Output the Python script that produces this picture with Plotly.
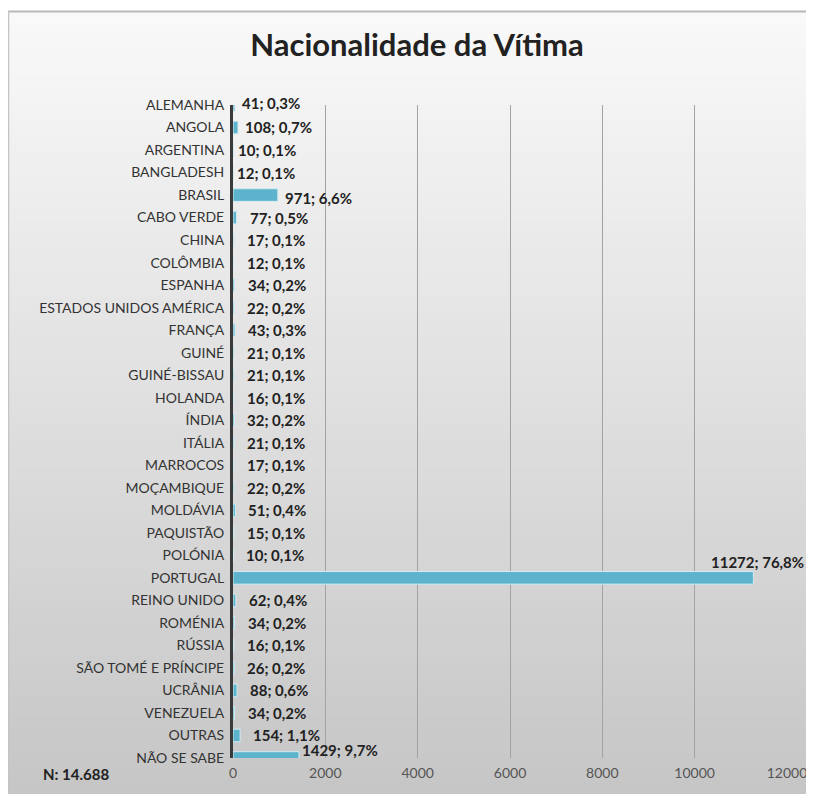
import plotly.graph_objects as go

# ---------------- Data ----------------
paises = [
    "ALEMANHA", "ANGOLA", "ARGENTINA", "BANGLADESH", "BRASIL", "CABO VERDE",
    "CHINA", "COLÔMBIA", "ESPANHA", "ESTADOS UNIDOS AMÉRICA", "FRANÇA", "GUINÉ",
    "GUINÉ-BISSAU", "HOLANDA", "ÍNDIA", "ITÁLIA", "MARROCOS", "MOÇAMBIQUE",
    "MOLDÁVIA", "PAQUISTÃO", "POLÓNIA", "PORTUGAL", "REINO UNIDO", "ROMÉNIA",
    "RÚSSIA", "SÃO TOMÉ E PRÍNCIPE", "UCRÂNIA", "VENEZUELA", "OUTRAS", "NÃO SE SABE",
]
vitimas = [
    41, 108, 10, 12, 971, 77,
    17, 12, 34, 22, 43, 21,
    21, 16, 32, 21, 17, 22,
    51, 15, 10, 11272, 62, 34,
    16, 26, 88, 34, 154, 1429,
]
percentagens = [
    "0,3%", "0,7%", "0,1%", "0,1%", "6,6%", "0,5%",
    "0,1%", "0,1%", "0,2%", "0,2%", "0,3%", "0,1%",
    "0,1%", "0,1%", "0,2%", "0,1%", "0,1%", "0,2%",
    "0,4%", "0,1%", "0,1%", "76,8%", "0,4%", "0,2%",
    "0,1%", "0,2%", "0,6%", "0,2%", "1,1%", "9,7%",
]
x_ticks = [0, 2000, 4000, 6000, 8000, 10000, 12000]
total_n = "N: 14.688"

FONT = "Lato"
BAR_COLOR = "#5cb3cb"

# label offsets in pixels (xshift, yshift); others use the default
label_offsets = {
    "ALEMANHA": (5, 2),
    "ANGOLA": (5, 1),
    "ARGENTINA": (3, 0),
    "BANGLADESH": (1, 0),
    "BRASIL": (5, -3),
    "NÃO SE SABE": (1, 8),
}
DEFAULT_OFFSET = (11, 0)

# ---------------- Figure geometry (pixels) ----------------
W, H = 814, 786
L, R, T, B = 225, 35, 97, 36
PW, PH = W - L - R, H - T - B


def px_x(p):
    return (p - L) / PW


def px_y(p):
    return (H - B - p) / PH


fig = go.Figure()

fig.add_trace(go.Bar(
    x=vitimas,
    y=paises,
    orientation="h",
    width=0.56,
    marker=dict(color=BAR_COLOR, line=dict(color="#d4ecf2", width=1)),
    hoverinfo="x+y",
))

# ---------------- Data labels ----------------
for pais, v, pct in zip(paises, vitimas, percentagens):
    if pais == "PORTUGAL":
        fig.add_annotation(
            x=v, y=pais, text=f"<b>{v}; {pct}</b>",
            xanchor="right", yanchor="middle",
            xshift=53, yshift=16, showarrow=False,
            font=dict(family=FONT, size=15, color="#222222"),
        )
        continue
    dx, dy = label_offsets.get(pais, DEFAULT_OFFSET)
    fig.add_annotation(
        x=v, y=pais, text=f"<b>{v}; {pct}</b>",
        xanchor="left", yanchor="middle",
        xshift=dx, yshift=dy, showarrow=False,
        font=dict(family=FONT, size=15, color="#222222"),
    )

fig.add_annotation(
    x=px_x(33), y=px_y(766), xref="paper", yref="paper",
    xanchor="left", yanchor="middle",
    text=f"<b>{total_n}</b>", showarrow=False,
    font=dict(family=FONT, size=15, color="#222222"),
)

# ---------------- Background card with gradient ----------------
shapes = []
top_c, bot_c = (249, 249, 249), (198, 198, 198)
n_bands = 60
y_top, y_bot = 3, H
for i in range(n_bands):
    t = i / (n_bands - 1)
    c = tuple(round(top_c[k] + (bot_c[k] - top_c[k]) * t) for k in range(3))
    p0 = y_top + (y_bot - y_top) * i / n_bands
    p1 = y_top + (y_bot - y_top) * (i + 1) / n_bands + 1
    shapes.append(dict(
        type="rect", xref="paper", yref="paper", layer="below",
        x0=px_x(0), x1=px_x(W), y0=px_y(min(p1, H)), y1=px_y(p0),
        fillcolor=f"rgb{c}", line=dict(width=0),
    ))
shapes.append(dict(
    type="line", xref="paper", yref="paper", layer="below",
    x0=px_x(0), x1=px_x(W), y0=px_y(3.5), y1=px_y(3.5),
    line=dict(color="#b8b8b8", width=2),
))
shapes.append(dict(
    type="line", xref="paper", yref="paper", layer="below",
    x0=px_x(0.5), x1=px_x(0.5), y0=px_y(3), y1=px_y(H),
    line=dict(color="#c4c4c4", width=1.5),
))

fig.update_layout(
    width=W,
    height=H,
    autosize=False,
    margin=dict(l=L, r=R, t=T, b=B),
    paper_bgcolor="white",
    plot_bgcolor="rgba(0,0,0,0)",
    showlegend=False,
    shapes=shapes,
    title=dict(
        text="<b>Nacionalidade da Vítima</b>",
        x=409 / W, xanchor="center", xref="container",
        y=1 - 37 / H, yanchor="middle", yref="container",
        font=dict(family=FONT, size=31, color="#222222"),
    ),
    font=dict(family=FONT),
)

fig.update_xaxes(
    range=[0, 12000],
    tickvals=x_ticks,
    tickformat="d",
    showgrid=True,
    gridcolor="#a2a2a2",
    gridwidth=1.2,
    zeroline=False,
    showline=False,
    ticks="",
    ticklabelstandoff=5,
    tickfont=dict(family=FONT, size=14, color="#555555"),
)

fig.update_yaxes(
    range=[29, 0],
    type="category",
    showgrid=False,
    zeroline=False,
    showline=True,
    linecolor="#3a3a3a",
    linewidth=3,
    ticks="",
    ticklabelstandoff=3,
    tickfont=dict(family=FONT, size=14, color="#333333"),
)

fig.write_html("out.html")
